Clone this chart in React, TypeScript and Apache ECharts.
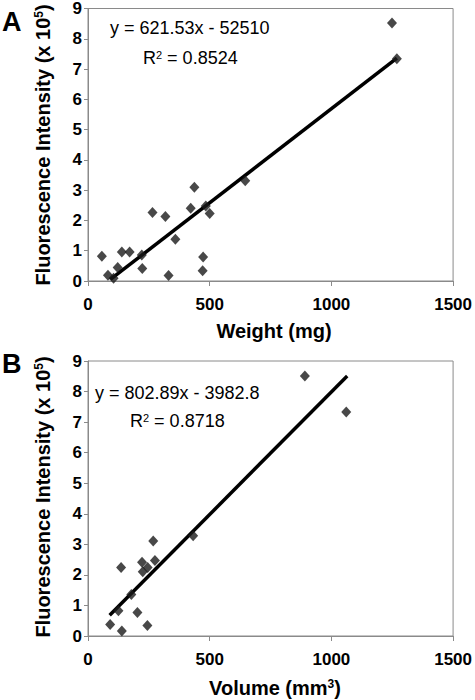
import React, { useEffect, useRef } from "react";
import * as echarts from "echarts";

// Panel A: weight (mg) vs fluorescence intensity (x 10^5)
const weightA = [57, 82, 105, 122, 139, 171, 221, 223, 265, 318, 331, 359, 422, 437, 471, 473, 484, 500, 646, 1249, 1269];
const intensityA = [0.82, 0.19, 0.09, 0.45, 0.96, 0.96, 0.86, 0.41, 2.26, 2.13, 0.18, 1.38, 2.4, 3.1, 0.34, 0.79, 2.48, 2.23, 3.31, 8.52, 7.34];
const trendA = [[92, 0.05], [1269, 7.36]];

// Panel B: volume (mm3) vs fluorescence intensity (x 10^5)
const volumeB = [91, 125, 139, 136, 178, 203, 222, 225, 245, 244, 268, 275, 432, 891, 1061];
const intensityB = [0.38, 0.83, 0.16, 2.24, 1.36, 0.77, 2.41, 2.1, 2.24, 0.34, 3.11, 2.47, 3.28, 8.51, 7.33];
const trendB = [[89, 0.68], [1065, 8.51]];

const xTicks = [0, 500, 1000, 1500];
const yTicks = [0, 1, 2, 3, 4, 5, 6, 7, 8, 9];

const eqA = "y = 621.53x - 52510";
const r2A = "0.8524";
const eqB = "y = 802.89x - 3982.8";
const r2B = "0.8718";
const yTitle = "{b|Fluorescence Intensity (x 10}{sup|5}{b|)}";
const xTitleA = "{b|Weight (mg)}";
const xTitleB = "{b|Volume (mm}{sup|3}{b|)}";

const FONT = "Liberation Sans";
const AXIS_GRAY = "#8a8a8a";

const titleRich = {
  b: { fontFamily: FONT, fontSize: 20, fontWeight: "bold", color: "#000" },
  sup: { fontFamily: FONT, fontSize: 12, fontWeight: "bold", color: "#000", verticalAlign: "top", lineHeight: 12 },
};

function xAxisCfg(gridIndex: number) {
  return {
    gridIndex,
    type: "value",
    min: xTicks[0],
    max: xTicks[xTicks.length - 1],
    interval: xTicks[1] - xTicks[0],
    axisLine: { lineStyle: { color: AXIS_GRAY, width: 1 } },
    axisTick: { length: 5, lineStyle: { color: AXIS_GRAY } },
    axisLabel: { fontSize: 17, color: "#000", fontWeight: "bold", fontFamily: FONT, margin: 15, formatter: (v: number) => String(v) },
    splitLine: { show: false },
  };
}

function yAxisCfg(gridIndex: number) {
  return {
    gridIndex,
    type: "value",
    min: yTicks[0],
    max: yTicks[yTicks.length - 1],
    interval: yTicks[1] - yTicks[0],
    axisLine: { show: true, lineStyle: { color: AXIS_GRAY, width: 1 } },
    axisTick: { show: true, length: 4, lineStyle: { color: AXIS_GRAY } },
    axisLabel: { fontSize: 17, color: "#000", fontWeight: "bold", fontFamily: FONT, margin: 6, lineHeight: 13 },
    splitLine: { show: false },
  };
}

function titleText(x: number, y: number, text: string, rotation: number) {
  return {
    type: "text",
    x,
    y,
    rotation,
    style: {
      text,
      fontFamily: FONT,
      fontSize: 20,
      fontWeight: "bold",
      fill: "#000",
      align: "center",
      verticalAlign: "middle",
      rich: titleRich,
    },
  };
}

function eqText(x: number, y: number, text: string) {
  return {
    type: "text",
    x,
    y,
    style: {
      text,
      fontFamily: FONT,
      fontSize: 18,
      fill: "#000",
      verticalAlign: "middle",
      rich: {
        n: { fontFamily: FONT, fontSize: 18, color: "#000" },
        sup: { fontFamily: FONT, fontSize: 11, color: "#000", verticalAlign: "top", lineHeight: 11 },
      },
    },
  };
}

export default function App() {
  const ref = useRef<HTMLDivElement>(null);
  useEffect(() => {
    if (!ref.current) return;
    const chart = echarts.init(ref.current, undefined, { renderer: "svg" });
    const scatterA = weightA.map((w, i) => [w, intensityA[i]]);
    const scatterB = volumeB.map((v, i) => [v, intensityB[i]]);
    chart.setOption({
      animation: false,
      backgroundColor: "#fff",
      grid: [
        { left: 88, width: 366, top: 7, height: 274, show: true, borderColor: AXIS_GRAY, borderWidth: 1, backgroundColor: "transparent" },
        { left: 88, width: 366, top: 361, height: 275, show: true, borderColor: AXIS_GRAY, borderWidth: 1, backgroundColor: "transparent" },
      ],
      xAxis: [xAxisCfg(0), xAxisCfg(1)],
      yAxis: [yAxisCfg(0), yAxisCfg(1)],
      series: [
        {
          type: "line",
          xAxisIndex: 0,
          yAxisIndex: 0,
          data: trendA,
          symbol: "none",
          lineStyle: { color: "#000", width: 3.5 },
          z: 2,
        },
        {
          type: "scatter",
          xAxisIndex: 0,
          yAxisIndex: 0,
          data: scatterA,
          symbol: "diamond",
          symbolSize: [10, 11],
          itemStyle: { color: "#1a1a1a" },
          z: 3,
        },
        {
          type: "line",
          xAxisIndex: 1,
          yAxisIndex: 1,
          data: trendB,
          symbol: "none",
          lineStyle: { color: "#000", width: 3.5 },
          z: 2,
        },
        {
          type: "scatter",
          xAxisIndex: 1,
          yAxisIndex: 1,
          data: scatterB,
          symbol: "diamond",
          symbolSize: [10, 11],
          itemStyle: { color: "#1a1a1a" },
          z: 3,
        },
      ],
      graphic: [
        {
          type: "text",
          x: 2,
          y: 22,
          style: { text: "A", fontFamily: FONT, fontSize: 27, fontWeight: "bold", fill: "#000", verticalAlign: "middle" },
        },
        {
          type: "text",
          x: 2,
          y: 364,
          style: { text: "B", fontFamily: FONT, fontSize: 27, fontWeight: "bold", fill: "#000", verticalAlign: "middle" },
        },
        titleText(43, 145, yTitle, Math.PI / 2),
        titleText(43, 497, yTitle, Math.PI / 2),
        titleText(274, 331, xTitleA, 0),
        titleText(275, 688, xTitleB, 0),
        eqText(110, 28, `{n|${eqA}}`),
        eqText(143, 58, `{n|R}{sup|2}{n| = ${r2A}}`),
        eqText(95, 393, `{n|${eqB}}`),
        eqText(130, 421, `{n|R}{sup|2}{n| = ${r2B}}`),
      ],
    });
    return () => chart.dispose();
  }, []);
  return <div ref={ref} style={{ position: "absolute", left: 0, top: 0, width: 475, height: 700 }} />;
}
